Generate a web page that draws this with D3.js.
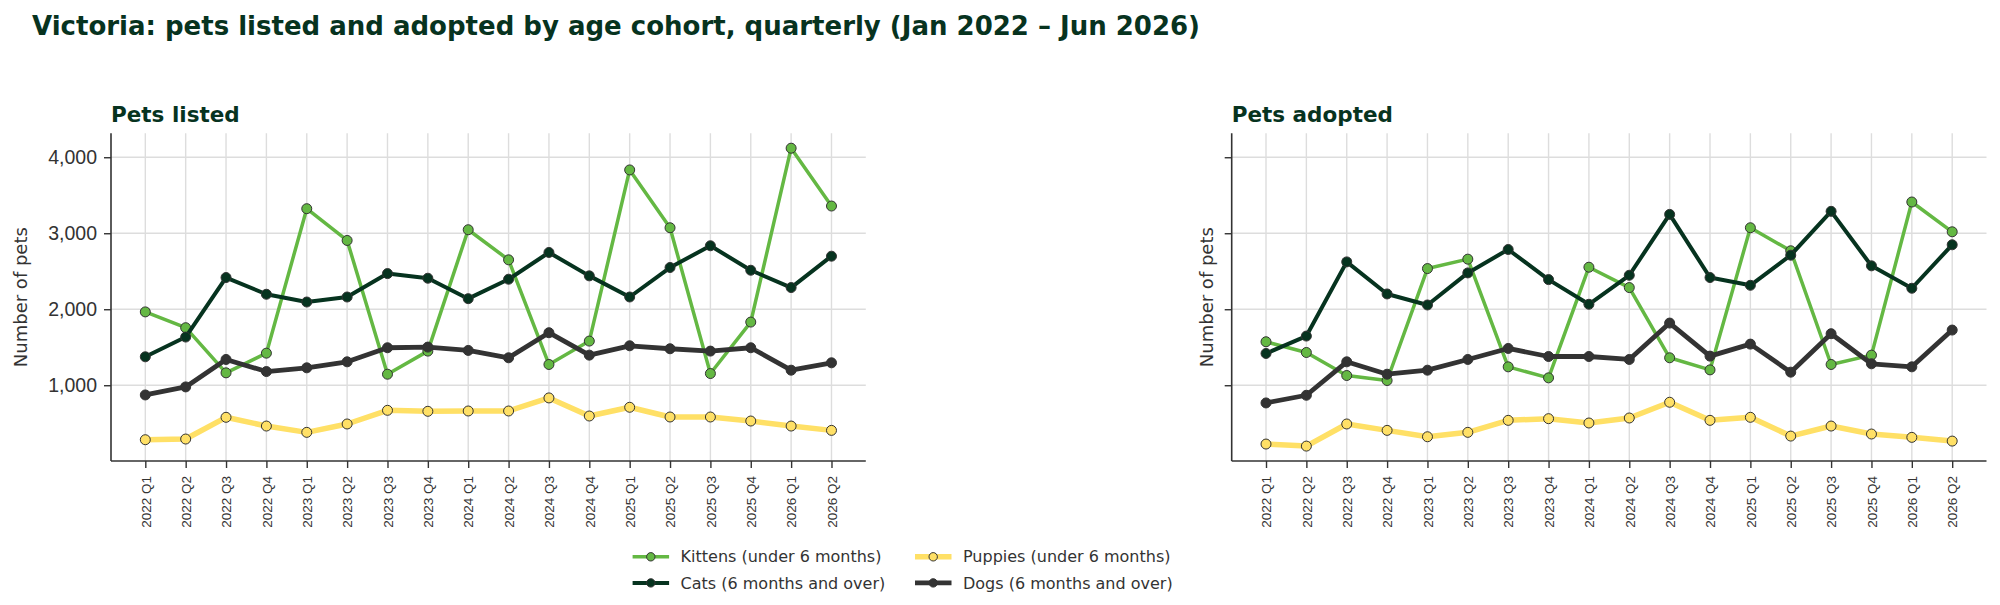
<!DOCTYPE html>
<html>
<head>
<meta charset="utf-8">
<script src="https://cdn.jsdelivr.net/npm/d3@7"></script>
<style>
  body { margin: 0; background: #fff; }
  svg { font-family: 'DejaVu Sans', sans-serif; }
</style>
</head>
<body>
<svg id="chart" width="2000" height="605"></svg>
<script>
const quarters = ['2022 Q1', '2022 Q2', '2022 Q3', '2022 Q4', '2023 Q1', '2023 Q2', '2023 Q3', '2023 Q4',
    '2024 Q1', '2024 Q2', '2024 Q3', '2024 Q4', '2025 Q1', '2025 Q2', '2025 Q3', '2025 Q4', '2026 Q1', '2026 Q2'];

const yTicks = [1000, 2000, 3000, 4000];

// pets listed
const listedKittens = [1965, 1757, 1163, 1422, 3323, 2905, 1145, 1449, 3046, 2650, 1273, 1581, 3833, 3072, 1154, 1831, 4119, 3358];
const listedCats    = [1374, 1634, 2417, 2197, 2095, 2161, 2469, 2408, 2139, 2395, 2747, 2439, 2161, 2549, 2835, 2513, 2285, 2698];
const listedPuppies = [283, 292, 578, 463, 380, 490, 670, 657, 661, 661, 833, 595, 710, 582, 582, 529, 463, 406];
const listedDogs    = [872, 978, 1339, 1180, 1229, 1308, 1493, 1502, 1458, 1361, 1691, 1396, 1519, 1480, 1449, 1493, 1198, 1295];

// pets adopted
const adoptedKittens = [1572, 1431, 1128, 1062, 2535, 2659, 1242, 1097, 2553, 2285, 1361, 1202, 3072, 2769, 1273, 1396, 3411, 3019];
const adoptedCats    = [1418, 1647, 2623, 2201, 2056, 2478, 2786, 2390, 2065, 2447, 3248, 2417, 2315, 2711, 3288, 2571, 2276, 2848];
const adoptedPuppies = [226, 199, 490, 406, 322, 380, 538, 560, 503, 569, 776, 538, 578, 331, 463, 358, 314, 265];
const adoptedDogs    = [767, 868, 1308, 1145, 1198, 1339, 1484, 1378, 1378, 1339, 1818, 1383, 1541, 1172, 1678, 1282, 1242, 1726];

const seriesNames = ['Kittens (under 6 months)', 'Cats (6 months and over)', 'Puppies (under 6 months)', 'Dogs (6 months and over)'];
const seriesStyle = [
    {color: '#64b843', width: 3.5, fill: '#64b843'},
    {color: '#06331f', width: 4, fill: '#06331f'},
    {color: '#ffe066', width: 5.5, fill: '#ffe066'},
    {color: '#333333', width: 4.8, fill: '#333333'}
];

const panels = [
    {title: 'Pets listed', left: 111, data: [listedKittens, listedCats, listedPuppies, listedDogs], labels: true},
    {title: 'Pets adopted', left: 1231.7, data: [adoptedKittens, adoptedCats, adoptedPuppies, adoptedDogs], labels: false}
];

let svg = d3.select('#chart');
const top_y = 133.3, bottom_y = 461, pw = 754.8;
const ink = '#333333', titleInk = '#07331f';

svg.append('text')
    .attr('x', 32)
    .attr('y', 35)
    .attr('font-size', 26)
    .attr('font-weight', 'bold')
    .attr('fill', titleInk)
    .text('Victoria: pets listed and adopted by age cohort, quarterly (Jan 2022 \u2013 Jun 2026)');

// shared y range, matplotlib style 5% margins
let all = panels.flatMap(p => p.data.flat());
let lo = d3.min(all), hi = d3.max(all), pad = (hi - lo) * 0.05;
let yScale = d3.scaleLinear()
    .domain([lo - pad, hi + pad])
    .range([bottom_y, top_y]);

panels.forEach(p => {
    let xScale = d3.scalePoint()
        .domain(quarters)
        .range([0, pw])
        .padding(0.85);

    const g = svg.append('g')
        .attr('transform', `translate(${p.left}, 0)`);

    g.append('g').selectAll('line')
        .data(quarters)
        .enter()
        .append('line')
            .attr('x1', d => xScale(d))
            .attr('x2', d => xScale(d))
            .attr('y1', top_y)
            .attr('y2', bottom_y)
            .style('stroke', '#dddddd')
            .style('stroke-width', 1.4);

    g.append('g').selectAll('line')
        .data(yTicks)
        .enter()
        .append('line')
            .attr('x1', 0)
            .attr('x2', pw)
            .attr('y1', d => yScale(d))
            .attr('y2', d => yScale(d))
            .style('stroke', '#dddddd')
            .style('stroke-width', 1.4);

    let yAxis = g.append('g')
        .call(d3.axisLeft(yScale).tickValues(yTicks).tickSize(7).tickPadding(7)
            .tickFormat(p.labels ? d3.format(',') : ''));
    yAxis.select('.domain').attr('d', `M0,${top_y}V${bottom_y}`);

    let xAxis = g.append('g')
        .attr('transform', `translate(0, ${bottom_y})`)
        .call(d3.axisBottom(xScale).tickSize(7).tickPadding(8));
    xAxis.select('.domain').attr('d', `M0,0H${pw}`);
    xAxis.selectAll('text')
        .attr('font-size', 13.5)
        .attr('transform', 'rotate(-90)')
        .attr('text-anchor', 'end')
        .attr('x', -15)
        .attr('y', 0)
        .attr('dy', '0.35em');

    [xAxis, yAxis].forEach(a => {
        a.selectAll('.domain').attr('stroke', ink).attr('stroke-width', 1.6);
        a.selectAll('.tick line').attr('stroke', ink).attr('stroke-width', 1.4);
        a.selectAll('.tick text').attr('fill', ink);
    });
    yAxis.selectAll('.tick text').attr('font-size', 19.5);

    g.append('text')
        .attr('transform', `translate(${p.labels ? -84 : -19}, ${(top_y + bottom_y) / 2}) rotate(-90)`)
        .attr('text-anchor', 'middle')
        .attr('font-size', 18)
        .attr('fill', ink)
        .text('Number of pets');

    g.append('text')
        .attr('x', 0)
        .attr('y', 121.5)
        .attr('font-size', 21.5)
        .attr('font-weight', 'bold')
        .attr('fill', titleInk)
        .text(p.title);

    let line = d3.line()
        .x((d, i) => xScale(quarters[i]))
        .y(d => yScale(d));

    p.data.forEach((vals, k) => {
        let s = seriesStyle[k];
        let sg = g.append('g');
        sg.append('path')
            .datum(vals)
            .attr('fill', 'none')
            .attr('stroke', s.color)
            .attr('stroke-width', s.width)
            .attr('stroke-linejoin', 'round')
            .attr('d', line);
        sg.selectAll('circle')
            .data(vals)
            .enter()
            .append('circle')
                .attr('cx', (d, i) => xScale(quarters[i]))
                .attr('cy', d => yScale(d))
                .attr('r', 5)
                .attr('fill', s.fill)
                .attr('stroke', ink)
                .attr('stroke-width', 1);
    });
});

// legend, two columns filled top to bottom
const legendCols = [632.6, 915];
const legendRows = [556.8, 582.9];
let legend = svg.append('g');
seriesNames.forEach((name, k) => {
    let s = seriesStyle[k];
    let x = legendCols[Math.floor(k / 2)], y = legendRows[k % 2];
    legend.append('line')
        .attr('x1', x).attr('x2', x + 36.5)
        .attr('y1', y).attr('y2', y)
        .attr('stroke', s.color)
        .attr('stroke-width', s.width);
    legend.append('circle')
        .attr('cx', x + 18.2).attr('cy', y)
        .attr('r', 4.2)
        .attr('fill', s.fill)
        .attr('stroke', ink)
        .attr('stroke-width', 1);
    legend.append('text')
        .attr('x', x + 48)
        .attr('y', y)
        .attr('dy', '0.35em')
        .attr('font-size', 16)
        .attr('fill', ink)
        .text(name);
});
</script>
</body>
</html>
